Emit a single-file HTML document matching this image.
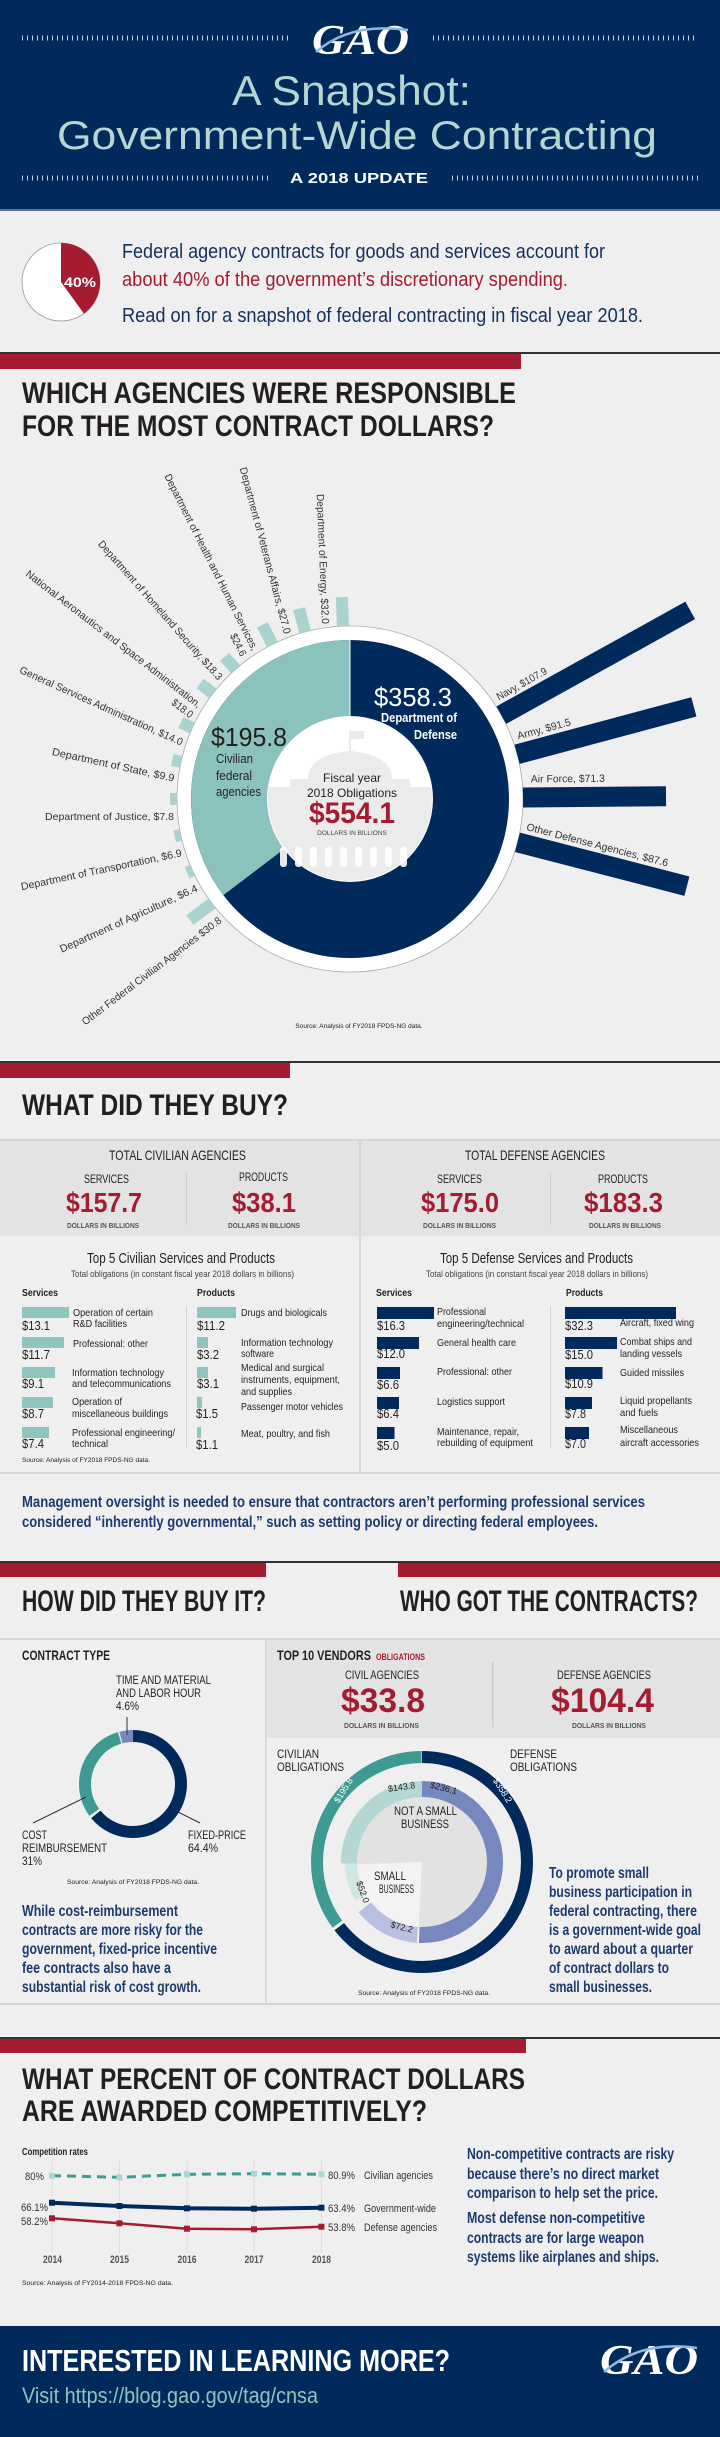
<!DOCTYPE html>
<html><head><meta charset="utf-8"><style>
html,body{margin:0;padding:0;background:#efefef}
svg{display:block}
.n{font-family:"Liberation Sans Narrow","Liberation Sans",sans-serif}
.s{font-family:"Liberation Sans",sans-serif}
.b{font-weight:bold}
</style></head><body>
<svg width="720" height="2437" viewBox="0 0 720 2437" xmlns="http://www.w3.org/2000/svg">
<rect width="720" height="2437" fill="#efefef"/>
<!-- HEADER -->
<rect width="720" height="211" fill="#002a5c"/>
<rect y="209" width="720" height="2" fill="#5a7196"/>
<g stroke="#c9d2df" stroke-width="5" stroke-dasharray="1 4">
<line x1="22" y1="38" x2="288" y2="38"/><line x1="433" y1="38" x2="698" y2="38"/>
<line x1="22" y1="178" x2="268" y2="178"/><line x1="452" y1="178" x2="698" y2="178"/>
</g>
<text x="312" y="54" class="b" font-family="Liberation Serif,serif" font-style="italic" font-size="42" fill="#fff" textLength="97" lengthAdjust="spacingAndGlyphs">GAO</text>
<path d="M316,52 Q350,22 408,30" stroke="#8fb8e0" stroke-width="2.5" fill="none"/>
<text x="232" y="105" class="n" font-size="42" fill="#b5d6d1" textLength="239" lengthAdjust="spacingAndGlyphs">A Snapshot:</text>
<text x="57" y="149" class="n" font-size="40" fill="#b5d6d1" textLength="600" lengthAdjust="spacingAndGlyphs">Government-Wide Contracting</text>
<text x="290" y="183" class="s b" font-size="15" fill="#fff" textLength="138" lengthAdjust="spacingAndGlyphs">A 2018 UPDATE</text>
<!-- INTRO -->
<circle cx="61" cy="282" r="39" fill="#fff" stroke="#999" stroke-width="0.8"/>
<path d="M61,282 L61,243 A39,39 0 0 1 83.9,313.6 Z" fill="#a51c30"/>
<text x="64" y="287" class="n b" font-size="14" fill="#fff" textLength="32" lengthAdjust="spacingAndGlyphs">40%</text>
<text x="122" y="258" class="n" font-size="20" fill="#14305f" textLength="483" lengthAdjust="spacingAndGlyphs">Federal agency contracts for goods and services account for</text>
<text x="122" y="286" class="n" font-size="20" fill="#a51c30" textLength="446" lengthAdjust="spacingAndGlyphs">about 40% of the government’s discretionary spending.</text>
<text x="122" y="322" class="n" font-size="20" fill="#14305f" textLength="521" lengthAdjust="spacingAndGlyphs">Read on for a snapshot of federal contracting in fiscal year 2018.</text>
<rect y="352" width="720" height="2" fill="#333"/>
<rect y="354" width="521" height="15" fill="#a51c30"/>
<!-- AGENCIES -->
<text x="22" y="403" class="n b" font-size="30" fill="#231f20" textLength="494" lengthAdjust="spacingAndGlyphs">WHICH AGENCIES WERE RESPONSIBLE</text>
<text x="22" y="436" class="n b" font-size="30" fill="#231f20" textLength="472" lengthAdjust="spacingAndGlyphs">FOR THE MOST CONTRACT DOLLARS?</text>
<g transform="translate(350,799)">
<circle r="173" fill="#fff" stroke="#aaa" stroke-width="0.8"/>
<circle r="159" fill="#002a5c"/>
<path d="M0,0 L0,-159 A159,159 0 0 0 -126.6,96.1 Z" fill="#8cc2bd"/>
<line x1="0" y1="0" x2="0" y2="-160" stroke="#fff" stroke-width="1"/>
<circle r="83" fill="#fff"/>
<clipPath id="cc"><circle r="82"/></clipPath>
<g clip-path="url(#cc)" fill="#ebebeb">
<rect x="-1" y="-68" width="2" height="24"/><rect x="0" y="-68" width="14" height="8"/>
<path d="M-42,-20 Q-42,-44 0,-48 Q42,-44 42,-20 Z"/>
<rect x="-60" y="-20" width="120" height="8"/>
<rect x="-90" y="-12" width="180" height="100"/>
</g>
<g fill="#fff" opacity="0.9">
<rect x="-70" y="48" width="7" height="20" rx="3"/><rect x="-55" y="48" width="7" height="20" rx="3"/><rect x="-40" y="48" width="7" height="20" rx="3"/><rect x="-25" y="48" width="7" height="20" rx="3"/><rect x="-10" y="48" width="7" height="20" rx="3"/><rect x="5" y="48" width="7" height="20" rx="3"/><rect x="20" y="48" width="7" height="20" rx="3"/><rect x="35" y="48" width="7" height="20" rx="3"/><rect x="50" y="48" width="7" height="20" rx="3"/>
</g>
<!-- civilian bars -->
<g fill="#a9d3cf">
<rect transform="rotate(-92.3)" x="173" y="-6" width="29" height="12"/>
<rect transform="rotate(-105)" x="173" y="-6" width="24" height="12"/>
<rect transform="rotate(-116.7)" x="173" y="-6" width="22" height="12"/>
<rect transform="rotate(-131.4)" x="173" y="-6" width="16.5" height="12"/>
<rect transform="rotate(-142.4)" x="173" y="-6" width="16.2" height="12"/>
<rect transform="rotate(-155.7)" x="173" y="-6" width="12.6" height="12"/>
<rect transform="rotate(-167.6)" x="173" y="-6" width="9" height="12"/>
<rect transform="rotate(180)" x="173" y="-6" width="7" height="12"/>
<rect transform="rotate(168)" x="173" y="-6" width="6.2" height="12"/>
<rect transform="rotate(155.6)" x="173" y="-6" width="5.8" height="12"/>
<rect transform="rotate(142.9)" x="173" y="-6" width="27.7" height="12"/>
</g>
<g class="s" font-size="10.5" fill="#333" text-anchor="end">
<text transform="rotate(-92.3) translate(176,0) rotate(180)" y="21" textLength="130" lengthAdjust="spacingAndGlyphs">Department of Energy, $32.0</text>
<text transform="rotate(-105) translate(176,0) rotate(180)" y="21" textLength="172" lengthAdjust="spacingAndGlyphs">Department of Veterans Affairs, $27.0</text>
<text transform="rotate(-116.7) translate(176,0) rotate(180)" y="21" textLength="196" lengthAdjust="spacingAndGlyphs">Department of Health and Human Services,</text>
<text transform="rotate(-116.7) translate(176,0) rotate(180)" y="34" textLength="24" lengthAdjust="spacingAndGlyphs">$24.6</text>
<text transform="rotate(-131.4) translate(176,0) rotate(180)" y="21" textLength="182" lengthAdjust="spacingAndGlyphs">Department of Homeland Security, $18.3</text>
<text transform="rotate(-142.4) translate(176,0) rotate(180)" y="21" textLength="218" lengthAdjust="spacingAndGlyphs">National Aeronautics and Space Administration,</text>
<text transform="rotate(-142.4) translate(176,0) rotate(180)" y="34" textLength="24" lengthAdjust="spacingAndGlyphs">$18.0</text>
<text transform="rotate(-155.7) translate(176,0) rotate(180)" y="21" textLength="178" lengthAdjust="spacingAndGlyphs">General Services Administration, $14.0</text>
<text transform="rotate(-167.6) translate(176,0) rotate(180)" y="21" textLength="125" lengthAdjust="spacingAndGlyphs">Department of State, $9.9</text>
<text transform="rotate(180) translate(176,0) rotate(180)" y="21" textLength="129" lengthAdjust="spacingAndGlyphs">Department of Justice, $7.8</text>
<text transform="rotate(168) translate(176,0) rotate(180)" y="21" textLength="164" lengthAdjust="spacingAndGlyphs">Department of Transportation, $6.9</text>
<text transform="rotate(155.6) translate(176,0) rotate(180)" y="21" textLength="150" lengthAdjust="spacingAndGlyphs">Department of Agriculture, $6.4</text>
<text transform="rotate(142.9) translate(176,0) rotate(180)" y="21" textLength="172" lengthAdjust="spacingAndGlyphs">Other Federal Civilian Agencies $30.8</text>
</g>
<!-- defense bars -->
<g fill="#002a5c">
<rect transform="rotate(-29)" x="173" y="-10" width="216" height="20"/>
<rect transform="rotate(-15)" x="173" y="-10" width="183" height="20"/>
<rect transform="rotate(-0.5)" x="173" y="-10" width="143" height="20"/>
<rect transform="rotate(14.5)" x="173" y="-10" width="175" height="20"/>
</g>
<g class="s" font-size="10.5" fill="#333">
<text transform="rotate(-29)" x="178" y="-14" textLength="56" lengthAdjust="spacingAndGlyphs">Navy, $107.9</text>
<text transform="rotate(-15)" x="178" y="-14" textLength="55" lengthAdjust="spacingAndGlyphs">Army, $91.5</text>
<text transform="rotate(-0.5)" x="181" y="-15" textLength="74" lengthAdjust="spacingAndGlyphs">Air Force, $71.3</text>
<text transform="rotate(14.5)" x="178" y="-14" textLength="146" lengthAdjust="spacingAndGlyphs">Other Defense Agencies,  $87.6</text>
</g>
</g>
<text x="374" y="706" class="s" font-size="26" fill="#fff" textLength="78" lengthAdjust="spacingAndGlyphs">$358.3</text>
<text x="457" y="722" class="n b" font-size="13" fill="#fff" text-anchor="end" textLength="76" lengthAdjust="spacingAndGlyphs">Department of</text>
<text x="457" y="739" class="n b" font-size="13" fill="#fff" text-anchor="end" textLength="43" lengthAdjust="spacingAndGlyphs">Defense</text>
<text x="211" y="746" class="s" font-size="26" fill="#231f20" textLength="76" lengthAdjust="spacingAndGlyphs">$195.8</text>
<g class="n" font-size="13" fill="#231f20">
<text x="216" y="763" textLength="37" lengthAdjust="spacingAndGlyphs">Civilian</text>
<text x="216" y="780" textLength="36" lengthAdjust="spacingAndGlyphs">federal</text>
<text x="216" y="796" textLength="45" lengthAdjust="spacingAndGlyphs">agencies</text>
</g>
<g class="s" text-anchor="middle" fill="#231f20">
<text x="352" y="782" font-size="12">Fiscal year</text>
<text x="352" y="797" font-size="12">2018 Obligations</text>
<text x="352" y="823" font-size="30" font-weight="bold" fill="#a51c30" textLength="86" lengthAdjust="spacingAndGlyphs">$554.1</text>
<text x="352" y="835" font-size="6.5" fill="#444">DOLLARS IN BILLIONS</text>
</g>
<text x="359" y="1028" class="s" font-size="6.5" text-anchor="middle" fill="#222">Source: Analysis of FY2018 FPDS-NG data.</text>
<rect y="1061" width="720" height="2" fill="#333"/>
<rect y="1063" width="290" height="15" fill="#a51c30"/>
<!-- WHAT DID THEY BUY -->
<text x="22" y="1115" class="n b" font-size="30" fill="#231f20" textLength="266" lengthAdjust="spacingAndGlyphs">WHAT DID THEY BUY?</text>
<rect y="1140" width="720" height="96" fill="#e3e3e3"/>
<rect y="1139" width="720" height="2" fill="#d6d6d6"/>
<rect x="359" y="1140" width="2" height="333" fill="#d6d6d6"/>
<rect y="1472" width="720" height="2" fill="#d6d6d6"/>
<rect x="186" y="1173" width="1" height="52" fill="#ccc"/>
<rect x="550" y="1173" width="1" height="52" fill="#ccc"/>
<g class="n" fill="#231f20" font-size="14">
<text x="109" y="1160" textLength="137" lengthAdjust="spacingAndGlyphs">TOTAL CIVILIAN AGENCIES</text>
<text x="465" y="1160" textLength="140" lengthAdjust="spacingAndGlyphs">TOTAL DEFENSE AGENCIES</text>
<text x="84" y="1183" font-size="12" textLength="45" lengthAdjust="spacingAndGlyphs">SERVICES</text>
<text x="239" y="1181" font-size="12" textLength="49" lengthAdjust="spacingAndGlyphs">PRODUCTS</text>
<text x="437" y="1183" font-size="12" textLength="45" lengthAdjust="spacingAndGlyphs">SERVICES</text>
<text x="598" y="1183" font-size="12" textLength="50" lengthAdjust="spacingAndGlyphs">PRODUCTS</text>
</g>
<g class="n b" fill="#a51c30" font-size="28">
<text x="66" y="1212" textLength="76" lengthAdjust="spacingAndGlyphs">$157.7</text>
<text x="232" y="1212" textLength="64" lengthAdjust="spacingAndGlyphs">$38.1</text>
<text x="421" y="1212" textLength="78" lengthAdjust="spacingAndGlyphs">$175.0</text>
<text x="584" y="1212" textLength="79" lengthAdjust="spacingAndGlyphs">$183.3</text>
</g>
<g class="n b" fill="#555" font-size="7.5">
<text x="67" y="1228" textLength="72" lengthAdjust="spacingAndGlyphs">DOLLARS IN BILLIONS</text>
<text x="228" y="1228" textLength="72" lengthAdjust="spacingAndGlyphs">DOLLARS IN BILLIONS</text>
<text x="423" y="1228" textLength="73" lengthAdjust="spacingAndGlyphs">DOLLARS IN BILLIONS</text>
<text x="589" y="1228" textLength="72" lengthAdjust="spacingAndGlyphs">DOLLARS IN BILLIONS</text>
</g>
<g class="n" fill="#231f20">
<text x="87" y="1263" font-size="15" textLength="188" lengthAdjust="spacingAndGlyphs">Top 5 Civilian Services and Products</text>
<text x="440" y="1263" font-size="15" textLength="193" lengthAdjust="spacingAndGlyphs">Top 5 Defense Services and Products</text>
<text x="71" y="1277" font-size="9.5" fill="#444" textLength="223" lengthAdjust="spacingAndGlyphs">Total obligations (in constant fiscal year 2018 dollars in billions)</text>
<text x="426" y="1277" font-size="9.5" fill="#444" textLength="222" lengthAdjust="spacingAndGlyphs">Total obligations (in constant fiscal year 2018 dollars in billions)</text>
<g font-weight="bold" font-size="10">
<text x="22" y="1296" textLength="36" lengthAdjust="spacingAndGlyphs">Services</text>
<text x="197" y="1296" textLength="38" lengthAdjust="spacingAndGlyphs">Products</text>
<text x="376" y="1296" textLength="36" lengthAdjust="spacingAndGlyphs">Services</text>
<text x="566" y="1296" textLength="37" lengthAdjust="spacingAndGlyphs">Products</text>
</g>
</g>
<rect x="186" y="1306" width="1" height="142" fill="#d3d3d3"/>
<rect x="550" y="1306" width="1" height="142" fill="#d3d3d3"/>
<g fill="#8ec5bf">
<rect x="22" y="1307" width="47" height="11"/><rect x="22" y="1337" width="42" height="11"/><rect x="22" y="1367" width="33" height="11"/><rect x="22" y="1397" width="31" height="11"/><rect x="22" y="1427" width="27" height="11"/>
<rect x="197" y="1307" width="39" height="11"/><rect x="197" y="1337" width="11" height="11"/><rect x="197" y="1367" width="11" height="11"/><rect x="197" y="1397" width="5" height="11"/><rect x="197" y="1427" width="4" height="11"/>
</g>
<g fill="#002a5c">
<rect x="377" y="1307" width="57" height="12"/><rect x="377" y="1337" width="42" height="12"/><rect x="377" y="1367" width="23" height="12"/><rect x="377" y="1397" width="22" height="12"/><rect x="377" y="1427" width="17.5" height="12"/>
<rect x="565" y="1307" width="111" height="12"/><rect x="565" y="1337" width="52" height="12"/><rect x="565" y="1367" width="37.5" height="12"/><rect x="565" y="1397" width="27" height="12"/><rect x="565" y="1427" width="24" height="12"/>
</g>
<g class="n" fill="#231f20" font-size="12.5">
<text x="22" y="1330" textLength="28" lengthAdjust="spacingAndGlyphs">$13.1</text>
<text x="22" y="1359" textLength="28" lengthAdjust="spacingAndGlyphs">$11.7</text>
<text x="22" y="1388" textLength="22" lengthAdjust="spacingAndGlyphs">$9.1</text>
<text x="22" y="1418" textLength="22" lengthAdjust="spacingAndGlyphs">$8.7</text>
<text x="22" y="1448" textLength="22" lengthAdjust="spacingAndGlyphs">$7.4</text>
<text x="197" y="1330" textLength="28" lengthAdjust="spacingAndGlyphs">$11.2</text>
<text x="197" y="1359" textLength="22" lengthAdjust="spacingAndGlyphs">$3.2</text>
<text x="197" y="1388" textLength="22" lengthAdjust="spacingAndGlyphs">$3.1</text>
<text x="196" y="1418" textLength="22" lengthAdjust="spacingAndGlyphs">$1.5</text>
<text x="196" y="1449" textLength="22" lengthAdjust="spacingAndGlyphs">$1.1</text>
<text x="377" y="1330" textLength="28" lengthAdjust="spacingAndGlyphs">$16.3</text>
<text x="377" y="1358" textLength="28" lengthAdjust="spacingAndGlyphs">$12.0</text>
<text x="377" y="1389" textLength="22" lengthAdjust="spacingAndGlyphs">$6.6</text>
<text x="377" y="1418" textLength="22" lengthAdjust="spacingAndGlyphs">$6.4</text>
<text x="377" y="1450" textLength="22" lengthAdjust="spacingAndGlyphs">$5.0</text>
<text x="565" y="1330" textLength="28" lengthAdjust="spacingAndGlyphs">$32.3</text>
<text x="565" y="1359" textLength="28" lengthAdjust="spacingAndGlyphs">$15.0</text>
<text x="565" y="1388" textLength="28" lengthAdjust="spacingAndGlyphs">$10.9</text>
<text x="565" y="1418" textLength="21" lengthAdjust="spacingAndGlyphs">$7.8</text>
<text x="565" y="1448" textLength="21" lengthAdjust="spacingAndGlyphs">$7.0</text>
</g>
<g class="n" fill="#231f20" font-size="10.5">
<text x="73" y="1316" textLength="80" lengthAdjust="spacingAndGlyphs">Operation of certain</text>
<text x="73" y="1327" textLength="54" lengthAdjust="spacingAndGlyphs">R&amp;D facilities</text>
<text x="73" y="1347" textLength="75" lengthAdjust="spacingAndGlyphs">Professional: other</text>
<text x="72" y="1376" textLength="92" lengthAdjust="spacingAndGlyphs">Information technology</text>
<text x="72" y="1387" textLength="99" lengthAdjust="spacingAndGlyphs">and telecommunications</text>
<text x="72" y="1405" textLength="50" lengthAdjust="spacingAndGlyphs">Operation of</text>
<text x="72" y="1417" textLength="96" lengthAdjust="spacingAndGlyphs">miscellaneous buildings</text>
<text x="72" y="1436" textLength="103" lengthAdjust="spacingAndGlyphs">Professional engineering/</text>
<text x="72" y="1447" textLength="36" lengthAdjust="spacingAndGlyphs">technical</text>
<text x="241" y="1316" textLength="86" lengthAdjust="spacingAndGlyphs">Drugs and biologicals</text>
<text x="241" y="1346" textLength="92" lengthAdjust="spacingAndGlyphs">Information technology</text>
<text x="241" y="1357" textLength="33" lengthAdjust="spacingAndGlyphs">software</text>
<text x="241" y="1371" textLength="83" lengthAdjust="spacingAndGlyphs">Medical and surgical</text>
<text x="241" y="1383" textLength="99" lengthAdjust="spacingAndGlyphs">instruments, equipment,</text>
<text x="241" y="1395" textLength="51" lengthAdjust="spacingAndGlyphs">and supplies</text>
<text x="241" y="1410" textLength="102" lengthAdjust="spacingAndGlyphs">Passenger motor vehicles</text>
<text x="241" y="1437" textLength="89" lengthAdjust="spacingAndGlyphs">Meat, poultry, and fish</text>
<text x="437" y="1315" textLength="49" lengthAdjust="spacingAndGlyphs">Professional</text>
<text x="437" y="1327" textLength="87" lengthAdjust="spacingAndGlyphs">engineering/technical</text>
<text x="437" y="1346" textLength="79" lengthAdjust="spacingAndGlyphs">General health care</text>
<text x="437" y="1375" textLength="75" lengthAdjust="spacingAndGlyphs">Professional: other</text>
<text x="437" y="1405" textLength="68" lengthAdjust="spacingAndGlyphs">Logistics support</text>
<text x="437" y="1435" textLength="82" lengthAdjust="spacingAndGlyphs">Maintenance, repair,</text>
<text x="437" y="1446" textLength="96" lengthAdjust="spacingAndGlyphs">rebuilding of equipment</text>
<text x="620" y="1326" textLength="74" lengthAdjust="spacingAndGlyphs">Aircraft, fixed wing</text>
<text x="620" y="1345" textLength="72" lengthAdjust="spacingAndGlyphs">Combat ships and</text>
<text x="620" y="1357" textLength="62" lengthAdjust="spacingAndGlyphs">landing vessels</text>
<text x="620" y="1376" textLength="64" lengthAdjust="spacingAndGlyphs">Guided missiles</text>
<text x="620" y="1404" textLength="72" lengthAdjust="spacingAndGlyphs">Liquid propellants</text>
<text x="620" y="1416" textLength="38" lengthAdjust="spacingAndGlyphs">and fuels</text>
<text x="620" y="1433" textLength="58" lengthAdjust="spacingAndGlyphs">Miscellaneous</text>
<text x="620" y="1446" textLength="79" lengthAdjust="spacingAndGlyphs">aircraft accessories</text>
</g>
<text x="22" y="1462" class="s" font-size="6.5" fill="#222" textLength="128" lengthAdjust="spacingAndGlyphs">Source: Analysis of FY2018 FPDS-NG data.</text>
<g class="n b" font-size="16" fill="#1d3b70">
<text x="22" y="1507" textLength="623" lengthAdjust="spacingAndGlyphs">Management oversight is needed to ensure that contractors aren’t performing professional services</text>
<text x="22" y="1527" textLength="576" lengthAdjust="spacingAndGlyphs">considered “inherently governmental,” such as setting policy or directing federal employees.</text>
</g>
<rect y="1561" width="720" height="2" fill="#333"/>
<rect y="1563" width="266" height="14" fill="#a51c30"/>
<rect x="398" y="1563" width="322" height="14" fill="#a51c30"/>
<!-- HOW / WHO -->
<text x="22" y="1611" class="n b" font-size="30" fill="#231f20" textLength="244" lengthAdjust="spacingAndGlyphs">HOW DID THEY BUY IT?</text>
<text x="400" y="1611" class="n b" font-size="30" fill="#231f20" textLength="298" lengthAdjust="spacingAndGlyphs">WHO GOT THE CONTRACTS?</text>
<rect y="1638" width="720" height="2" fill="#d6d6d6"/>
<rect x="266" y="1640" width="454" height="98" fill="#e3e3e3"/>
<rect x="265" y="1640" width="1.5" height="364" fill="#d6d6d6"/>
<rect x="492" y="1662" width="1.5" height="65" fill="#ccc"/>
<rect y="2003" width="720" height="2" fill="#d6d6d6"/>
<text x="22" y="1660" class="n b" font-size="14" fill="#231f20" textLength="88" lengthAdjust="spacingAndGlyphs">CONTRACT TYPE</text>
<text x="277" y="1660" class="n b" font-size="14" fill="#231f20" textLength="94" lengthAdjust="spacingAndGlyphs">TOP 10 VENDORS</text>
<text x="376" y="1660" class="n b" font-size="9" fill="#a51c30" textLength="49" lengthAdjust="spacingAndGlyphs">OBLIGATIONS</text>
<g class="n" font-size="12" fill="#231f20">
<text x="345" y="1679" textLength="74" lengthAdjust="spacingAndGlyphs">CIVIL AGENCIES</text>
<text x="557" y="1679" textLength="94" lengthAdjust="spacingAndGlyphs">DEFENSE AGENCIES</text>
</g>
<text x="341" y="1712" class="n b" font-size="34" fill="#a51c30" textLength="84" lengthAdjust="spacingAndGlyphs">$33.8</text>
<text x="551" y="1712" class="n b" font-size="34" fill="#a51c30" textLength="103" lengthAdjust="spacingAndGlyphs">$104.4</text>
<text x="344" y="1728" class="n b" font-size="7.5" fill="#555" textLength="75" lengthAdjust="spacingAndGlyphs">DOLLARS IN BILLIONS</text>
<text x="572" y="1728" class="n b" font-size="7.5" fill="#555" textLength="74" lengthAdjust="spacingAndGlyphs">DOLLARS IN BILLIONS</text>
<!-- contract type donut -->
<g transform="rotate(-90 133 1784)" fill="none" stroke-width="12">
<circle cx="133" cy="1784" r="48" stroke="#002a5c" stroke-dasharray="193 108.6"/>
<circle cx="133" cy="1784" r="48" stroke="#3f9a91" stroke-dasharray="92 209.6" stroke-dashoffset="-195.5"/>
<circle cx="133" cy="1784" r="48" stroke="#7788bf" stroke-dasharray="12.5 289.1" stroke-dashoffset="-288.8"/>
</g>
<g stroke="#333" stroke-width="1">
<line x1="127" y1="1717" x2="127" y2="1735"/>
<line x1="33" y1="1823" x2="86" y2="1797"/>
<line x1="200" y1="1823" x2="174" y2="1810"/>
</g>
<g class="n" font-size="11.5" fill="#231f20">
<text x="116" y="1684" textLength="95" lengthAdjust="spacingAndGlyphs">TIME AND MATERIAL</text>
<text x="116" y="1697" textLength="85" lengthAdjust="spacingAndGlyphs">AND LABOR HOUR</text>
<text x="116" y="1710" textLength="23" lengthAdjust="spacingAndGlyphs">4.6%</text>
<text x="22" y="1839" textLength="25" lengthAdjust="spacingAndGlyphs">COST</text>
<text x="22" y="1852" textLength="85" lengthAdjust="spacingAndGlyphs">REIMBURSEMENT</text>
<text x="22" y="1865" textLength="20" lengthAdjust="spacingAndGlyphs">31%</text>
<text x="188" y="1839" textLength="58" lengthAdjust="spacingAndGlyphs">FIXED-PRICE</text>
<text x="188" y="1852" textLength="30" lengthAdjust="spacingAndGlyphs">64.4%</text>
</g>
<text x="67" y="1884" class="s" font-size="6.5" fill="#222" textLength="132" lengthAdjust="spacingAndGlyphs">Source: Analysis of FY2018 FPDS-NG data.</text>
<g class="n b" font-size="16" fill="#1d3b70">
<text x="22" y="1916" textLength="156" lengthAdjust="spacingAndGlyphs">While cost-reimbursement</text>
<text x="22" y="1935" textLength="181" lengthAdjust="spacingAndGlyphs">contracts are more risky for the</text>
<text x="22" y="1954" textLength="195" lengthAdjust="spacingAndGlyphs">government, fixed-price incentive</text>
<text x="22" y="1973" textLength="149" lengthAdjust="spacingAndGlyphs">fee contracts  also have a</text>
<text x="22" y="1992" textLength="179" lengthAdjust="spacingAndGlyphs">substantial risk of cost growth.</text>
</g>
<!-- vendor donut -->
<circle cx="422" cy="1862" r="65" fill="#e2e2e2"/>
<path d="M422,1862 L418.6,1927 A65,65 0 0 1 357,1864.3 Z" fill="#f3f3f3"/>
<g transform="rotate(-90 422 1862)" fill="none">
<circle cx="422" cy="1862" r="105" stroke="#002a5c" stroke-width="12" stroke-dasharray="425 234.7"/>
<circle cx="422" cy="1862" r="105" stroke="#3f9a91" stroke-width="12" stroke-dasharray="231 428.7" stroke-dashoffset="-428"/>
<circle cx="422" cy="1862" r="73" stroke="#7788bf" stroke-width="16" stroke-dasharray="232 226.7"/>
<circle cx="422" cy="1862" r="73" stroke="#b9bfe0" stroke-width="16" stroke-dasharray="61 397.7" stroke-dashoffset="-234"/>
<circle cx="422" cy="1862" r="71" stroke="#cfe6e3" stroke-width="12" stroke-dasharray="44 414.7" stroke-dashoffset="-297"/>
<circle cx="422" cy="1862" r="73" stroke="#b4d7d4" stroke-width="16" stroke-dasharray="116 342.7" stroke-dashoffset="-342.5"/>
</g>
<g class="n" font-size="12" fill="#231f20">
<text x="277" y="1758" textLength="42" lengthAdjust="spacingAndGlyphs">CIVILIAN</text>
<text x="277" y="1771" textLength="67" lengthAdjust="spacingAndGlyphs">OBLIGATIONS</text>
<text x="510" y="1758" textLength="47" lengthAdjust="spacingAndGlyphs">DEFENSE</text>
<text x="510" y="1771" textLength="67" lengthAdjust="spacingAndGlyphs">OBLIGATIONS</text>
<text x="394" y="1815" textLength="63" lengthAdjust="spacingAndGlyphs">NOT A SMALL</text>
<text x="401" y="1828" textLength="48" lengthAdjust="spacingAndGlyphs">BUSINESS</text>
<text x="374" y="1880" textLength="32" lengthAdjust="spacingAndGlyphs">SMALL</text>
<text x="379" y="1893" textLength="35" lengthAdjust="spacingAndGlyphs">BUSINESS</text>
</g>
<g class="s" font-size="9" text-anchor="middle">
<text transform="translate(346,1792) rotate(-58)" fill="#fff">$195.8</text>
<text transform="translate(500,1792) rotate(58)" fill="#fff">$358.2</text>
<text transform="translate(402,1790) rotate(-8)" fill="#231f20">$143.8</text>
<text transform="translate(443,1791) rotate(14)" fill="#231f20">$236.1</text>
<text transform="translate(360,1893) rotate(70)" fill="#231f20">$52.0</text>
<text transform="translate(401,1930) rotate(14)" fill="#231f20">$72.2</text>
</g>
<text x="358" y="1995" class="s" font-size="6.5" fill="#222" textLength="132" lengthAdjust="spacingAndGlyphs">Source: Analysis of FY2018 FPDS-NG data.</text>
<g class="n b" font-size="16" fill="#1d3b70">
<text x="549" y="1878" textLength="100" lengthAdjust="spacingAndGlyphs">To promote small</text>
<text x="549" y="1897" textLength="143" lengthAdjust="spacingAndGlyphs">business participation in</text>
<text x="549" y="1916" textLength="148" lengthAdjust="spacingAndGlyphs">federal contracting, there</text>
<text x="549" y="1935" textLength="152" lengthAdjust="spacingAndGlyphs">is a government-wide goal</text>
<text x="549" y="1954" textLength="144" lengthAdjust="spacingAndGlyphs">to award about a quarter</text>
<text x="549" y="1973" textLength="120" lengthAdjust="spacingAndGlyphs">of contract dollars to</text>
<text x="549" y="1992" textLength="103" lengthAdjust="spacingAndGlyphs">small businesses.</text>
</g>
<rect y="2037" width="720" height="2" fill="#333"/>
<rect y="2039" width="526" height="14" fill="#a51c30"/>
<!-- COMPETITION -->
<text x="22" y="2089" class="n b" font-size="30" fill="#231f20" textLength="503" lengthAdjust="spacingAndGlyphs">WHAT PERCENT OF CONTRACT DOLLARS</text>
<text x="22" y="2121" class="n b" font-size="30" fill="#231f20" textLength="405" lengthAdjust="spacingAndGlyphs">ARE AWARDED COMPETITIVELY?</text>
<text x="22" y="2155" class="n b" font-size="10" fill="#231f20" textLength="66" lengthAdjust="spacingAndGlyphs">Competition rates</text>
<g stroke="#dcdcdc" stroke-width="1">
<line x1="52" y1="2160" x2="52" y2="2253"/><line x1="119.4" y1="2160" x2="119.4" y2="2253"/><line x1="187" y1="2160" x2="187" y2="2253"/><line x1="254" y1="2160" x2="254" y2="2253"/><line x1="321.4" y1="2160" x2="321.4" y2="2253"/>
</g>
<polyline points="52,2175.7 119.4,2177.3 187,2174.3 254,2173.7 321.4,2174.3" fill="none" stroke="#3f9a91" stroke-width="3" stroke-dasharray="9 6"/>
<polyline points="52,2202.7 119.4,2206 187,2208.3 254,2208.7 321.4,2207.7" fill="none" stroke="#002a5c" stroke-width="4"/>
<polyline points="52,2218.3 119.4,2223.3 187,2228.7 254,2229.3 321.4,2226.7" fill="none" stroke="#a51c30" stroke-width="2.5"/>
<g fill="#a9d6d0">
<rect x="49" y="2172.7" width="6" height="6"/><rect x="116.4" y="2174.3" width="6" height="6"/><rect x="184" y="2171.3" width="6" height="6"/><rect x="251" y="2170.7" width="6" height="6"/><rect x="318.4" y="2171.3" width="6" height="6"/>
</g>
<g fill="#002a5c">
<rect x="49" y="2199.7" width="6" height="6"/><rect x="116.4" y="2203" width="6" height="6"/><rect x="184" y="2205.3" width="6" height="6"/><rect x="251" y="2205.7" width="6" height="6"/><rect x="318.4" y="2204.7" width="6" height="6"/>
</g>
<g fill="#a51c30">
<rect x="49" y="2215.3" width="6" height="6"/><rect x="116.4" y="2220.3" width="6" height="6"/><rect x="184" y="2225.7" width="6" height="6"/><rect x="251" y="2226.3" width="6" height="6"/><rect x="318.4" y="2223.7" width="6" height="6"/>
</g>
<g class="n" font-size="11" fill="#333">
<text x="44" y="2180" text-anchor="end" textLength="19" lengthAdjust="spacingAndGlyphs">80%</text>
<text x="48" y="2211" text-anchor="end" textLength="27" lengthAdjust="spacingAndGlyphs">66.1%</text>
<text x="48" y="2225" text-anchor="end" textLength="27" lengthAdjust="spacingAndGlyphs">58.2%</text>
<text x="328" y="2179" textLength="27" lengthAdjust="spacingAndGlyphs">80.9%</text>
<text x="364" y="2179" textLength="69" lengthAdjust="spacingAndGlyphs">Civilian agencies</text>
<text x="328" y="2212" textLength="27" lengthAdjust="spacingAndGlyphs">63.4%</text>
<text x="364" y="2212" textLength="72" lengthAdjust="spacingAndGlyphs">Government-wide</text>
<text x="328" y="2231" textLength="27" lengthAdjust="spacingAndGlyphs">53.8%</text>
<text x="364" y="2231" textLength="73" lengthAdjust="spacingAndGlyphs">Defense agencies</text>
<g fill="#555" font-weight="bold">
<text x="43" y="2263" textLength="19" lengthAdjust="spacingAndGlyphs">2014</text>
<text x="110" y="2263" textLength="19" lengthAdjust="spacingAndGlyphs">2015</text>
<text x="177.5" y="2263" textLength="19" lengthAdjust="spacingAndGlyphs">2016</text>
<text x="244.5" y="2263" textLength="19" lengthAdjust="spacingAndGlyphs">2017</text>
<text x="312" y="2263" textLength="19" lengthAdjust="spacingAndGlyphs">2018</text>
</g>
</g>
<text x="22" y="2285" class="s" font-size="6.5" fill="#222" textLength="151" lengthAdjust="spacingAndGlyphs">Source: Analysis of FY2014-2018 FPDS-NG data.</text>
<g class="n b" font-size="16" fill="#1d3b70">
<text x="467" y="2159" textLength="207" lengthAdjust="spacingAndGlyphs">Non-competitive contracts are risky</text>
<text x="467" y="2179" textLength="192" lengthAdjust="spacingAndGlyphs">because there’s no direct market</text>
<text x="467" y="2198" textLength="191" lengthAdjust="spacingAndGlyphs">comparison to help set the price.</text>
<text x="467" y="2223" textLength="178" lengthAdjust="spacingAndGlyphs">Most defense non-competitive</text>
<text x="467" y="2243" textLength="177" lengthAdjust="spacingAndGlyphs">contracts are for large weapon</text>
<text x="467" y="2262" textLength="192" lengthAdjust="spacingAndGlyphs">systems like airplanes and ships.</text>
</g>
<!-- FOOTER -->
<rect y="2326" width="720" height="111" fill="#002a5c"/>
<text x="22" y="2371" class="n b" font-size="31" fill="#fff" textLength="428" lengthAdjust="spacingAndGlyphs">INTERESTED IN LEARNING MORE?</text>
<text x="22" y="2403" class="n" font-size="22" fill="#8fc4bd" textLength="296" lengthAdjust="spacingAndGlyphs">Visit https://blog.gao.gov/tag/cnsa</text>
<text x="600" y="2374" class="b" font-family="Liberation Serif,serif" font-style="italic" font-size="42" fill="#fff" textLength="98" lengthAdjust="spacingAndGlyphs">GAO</text>
<path d="M604,2372 Q640,2340 697,2348" stroke="#8fb8e0" stroke-width="2.5" fill="none"/>
</svg>
</body></html>
